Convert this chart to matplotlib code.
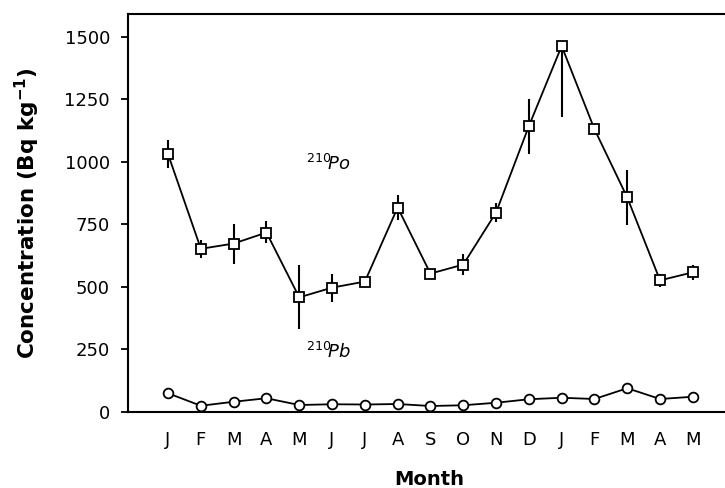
import numpy as np
import matplotlib
matplotlib.use("Agg")
import matplotlib.pyplot as plt

# Month labels along the x axis (Jan of year 1 to May of year 2)
months = ["J", "F", "M", "A", "M", "J", "J", "A", "S", "O", "N", "D",
          "J", "F", "M", "A", "M"]

# 210Po concentration and error bars (Bq/kg)
po = [1030, 652, 673, 717, 458, 497, 521, 817, 553, 589, 797, 1142,
      1462, 1130, 857, 526, 558]
po_err_low = [55, 35, 80, 40, 128, 56, 15, 48, 20, 40, 38, 110,
              285, 0, 108, 26, 31]
po_err_high = [55, 35, 80, 48, 128, 56, 15, 48, 20, 44, 38, 110,
               0, 0, 108, 24, 31]

# 210Pb concentration (Bq/kg)
pb = [75, 25, 41, 55, 28, 31, 30, 32, 24, 27, 37, 51, 57, 52, 95, 52, 61]

yticks = [0, 250, 500, 750, 1000, 1250, 1500]

plt.rcParams["font.family"] = ["DejaVu Sans"]

fig = plt.figure(figsize=(7.25, 4.88), dpi=100)
ax = fig.add_axes([0.1766, 0.1557, 0.8234, 0.8156])

x = np.arange(1, len(months) + 1)

# Po series with vertical error bars, no caps
ax.errorbar(x, po, yerr=[po_err_low, po_err_high], fmt="none",
            ecolor="black", elinewidth=1.5, capsize=0, zorder=2)
ax.plot(x, po, color="black", linewidth=1.3, marker="s", markersize=7.5,
        markerfacecolor="white", markeredgecolor="black",
        markeredgewidth=1.3, zorder=3)

# Pb series
ax.plot(x, pb, color="black", linewidth=1.3, marker="o", markersize=7,
        markerfacecolor="white", markeredgecolor="black",
        markeredgewidth=1.3, zorder=3)

ax.text(5.2, 990, r"$^{210}\!Po$", fontsize=13, style="italic",
        va="center", ha="left")
ax.text(5.2, 240, r"$^{210}\!Pb$", fontsize=13, style="italic",
        va="center", ha="left")

ax.set_xlim(-0.22, 17.98)
ax.set_ylim(0, 1590)
ax.set_xticks(x)
ax.set_xticklabels(months)
ax.set_yticks(yticks)

ax.spines["right"].set_visible(False)
for s in ["left", "bottom", "top"]:
    ax.spines[s].set_linewidth(1.5)

ax.tick_params(axis="x", length=0, pad=14, labelsize=13)
ax.tick_params(axis="y", length=5, width=1.3, pad=8, labelsize=13)

ax.set_xlabel("Month", fontsize=14, fontweight="bold", va="center")
ax.xaxis.set_label_coords(0.505, -0.17)
ax.set_ylabel(r"Concentration (Bq kg$^{\mathbf{-1}}$)", fontsize=15.5,
              fontweight="bold", va="center")
ax.yaxis.set_label_coords(-0.168, 0.5)

fig.savefig("out.png", dpi=100)
